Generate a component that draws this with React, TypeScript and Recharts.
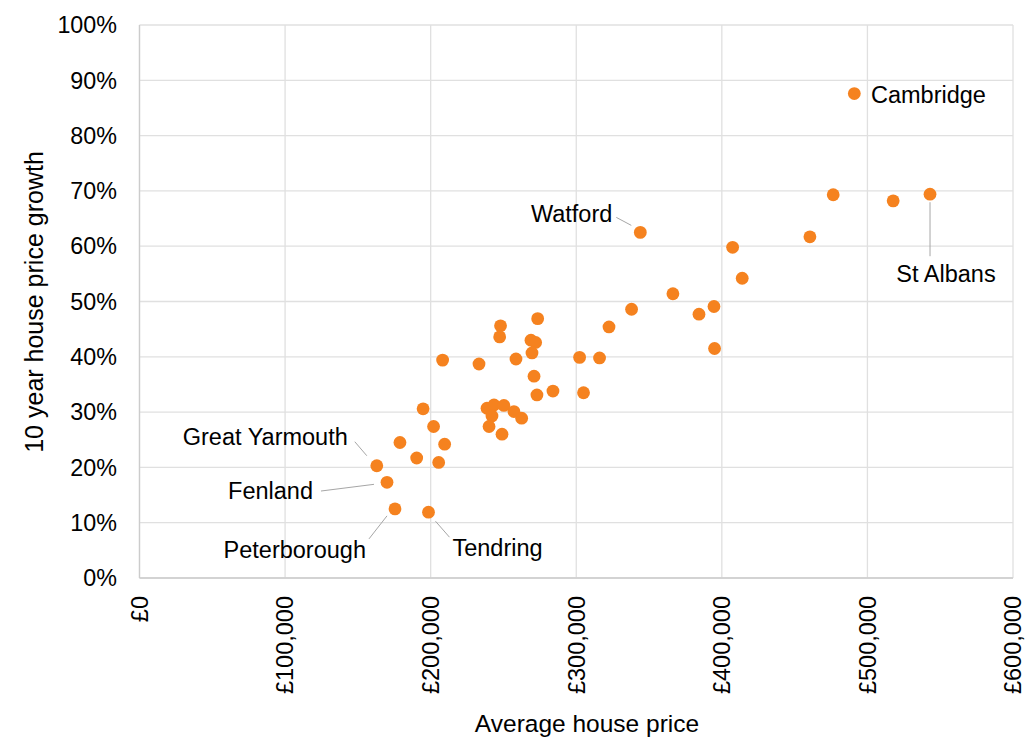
import React from "react";
import { ScatterChart, Scatter, XAxis, YAxis, CartesianGrid, Label } from "recharts";

// labelled places first, then the unnamed local authorities
const names = ["Cambridge", "St Albans", "Watford", "Great Yarmouth", "Fenland", "Peterborough", "Tendring"];

const prices = [
  491000, 543000, 344000, 163000, 170000, 175500, 198500,
  476500, 517700, 460500, 407400, 414000, 366400, 394600, 384300, 338000, 322500,
  395000, 302300, 316000, 305000, 284000, 273500, 248000, 247400, 268900, 272100,
  269600, 258600, 233200, 208200, 271000, 273000, 238700, 243500, 250300, 242100,
  257200, 262500, 240100, 249000, 194800, 202000, 209600, 178900, 190400, 205500,
];

const growth = [
  87.6, 69.4, 62.5, 20.3, 17.3, 12.5, 11.9,
  69.3, 68.2, 61.7, 59.8, 54.2, 51.4, 49.1, 47.7, 48.6, 45.4,
  41.5, 39.9, 39.8, 33.5, 33.8, 46.9, 45.6, 43.6, 43.0, 42.6,
  40.7, 39.6, 38.7, 39.4, 36.5, 33.1, 30.7, 31.3, 31.2, 29.3,
  30.1, 28.9, 27.4, 26.0, 30.6, 27.4, 24.2, 24.5, 21.7, 20.9,
];

const priceTicks = [0, 100000, 200000, 300000, 400000, 500000, 600000];
const growthTicks = [0, 10, 20, 30, 40, 50, 60, 70, 80, 90, 100];

const data = prices.map((p, i) => ({ price: p, growth: growth[i], name: names[i] || "" }));

const ORANGE = "#f5821f";
const FONT = "'Liberation Sans', Arial, sans-serif";

// label placement relative to the dot (pixels)
const callouts: Record<string, any> = {
  Cambridge: { dx: 16.7, dy: 1.4, anchor: "start" },
  Watford: { dx: -28, dy: -19, anchor: "end", line: [-24, -15, -9, -7] },
  "St Albans": { dx: 16, dy: 79, anchor: "middle", line: [0, 8, 0, 62] },
  "Great Yarmouth": { dx: -29, dy: -29, anchor: "end", line: [-22, -24, -10, -10] },
  Fenland: { dx: -74, dy: 8.4, anchor: "end", line: [-66, 8.7, -13, 2] },
  Peterborough: { dx: -29, dy: 41, anchor: "end", line: [-26, 30, -8, 7] },
  Tendring: { dx: 24, dy: 35, anchor: "start", line: [7, 9, 21, 25] },
};

const fmtPrice = (v: number) => "£" + v.toLocaleString("en-GB");

const Dot = (props: any) => {
  const { cx, cy, payload } = props;
  const c = callouts[payload.name];
  return (
    <g>
      <circle cx={cx} cy={cy} r={6.4} fill={ORANGE} />
      {c && c.line && (
        <line
          x1={cx + c.line[0]}
          y1={cy + c.line[1]}
          x2={cx + c.line[2]}
          y2={cy + c.line[3]}
          stroke="#a6a6a6"
          strokeWidth={1}
        />
      )}
      {c && (
        <text x={cx + c.dx} y={cy + c.dy} dy="0.355em" textAnchor={c.anchor} fontSize={23.5} fontFamily={FONT} fill="#000">
          {payload.name}
        </text>
      )}
    </g>
  );
};

const YTick = (props: any) => {
  const { y, payload } = props;
  return (
    <text x={117} y={y} dy="0.355em" textAnchor="end" fontSize={23.3} fontFamily={FONT} fill="#000">
      {payload.value + "%"}
    </text>
  );
};

const XTick = (props: any) => {
  const { x, payload } = props;
  return (
    <text
      transform={`translate(${x},596) rotate(-90)`}
      dy="0.355em"
      textAnchor="end"
      fontSize={23.5}
      fontFamily={FONT}
      fill="#000"
    >
      {fmtPrice(payload.value)}
    </text>
  );
};

export default function App() {
  return (
    <div style={{ position: "absolute", left: 0, top: 0, background: "#fff" }}>
      <ScatterChart width={1025} height={738} margin={{ top: 25, right: 12, bottom: 0, left: 0 }}>
        <CartesianGrid stroke="#e0e0e0" strokeWidth={1.3} />
        <XAxis
          type="number"
          dataKey="price"
          domain={[0, 600000]}
          ticks={priceTicks}
          height={160}
          tickLine={false}
          axisLine={{ stroke: "#cccccc", strokeWidth: 1.3 }}
          tick={<XTick />}
          interval={0}
        >
          <Label
            content={() => (
              <text x={587} y={732} textAnchor="middle" fontSize={24.5} fontFamily={FONT} fill="#000">
                Average house price
              </text>
            )}
          />
        </XAxis>
        <YAxis
          type="number"
          dataKey="growth"
          domain={[0, 100]}
          ticks={growthTicks}
          width={139.5}
          tickLine={false}
          axisLine={{ stroke: "#cccccc", strokeWidth: 1.3 }}
          tick={<YTick />}
          interval={0}
        >
          <Label
            content={() => (
              <text
                x={43}
                y={302}
                transform="rotate(-90, 43, 302)"
                textAnchor="middle"
                fontSize={25}
                fontFamily={FONT}
                fill="#000"
              >
                10 year house price growth
              </text>
            )}
          />
        </YAxis>
        <Scatter data={data} fill={ORANGE} shape={<Dot />} isAnimationActive={false} />
      </ScatterChart>
    </div>
  );
}
